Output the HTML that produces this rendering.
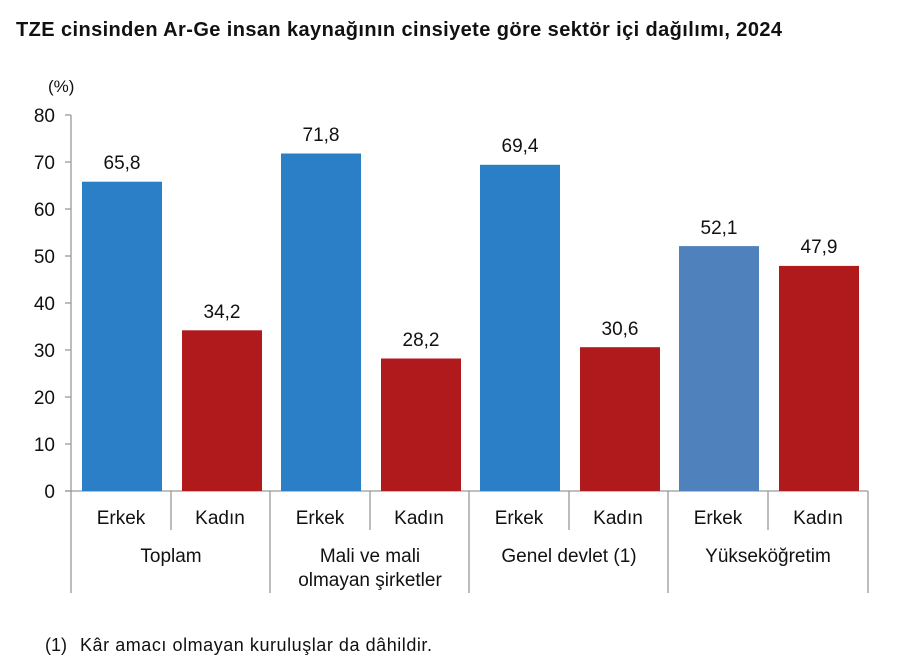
<!DOCTYPE html><html><head><meta charset="utf-8"><style>body{margin:0;background:#fff}svg{display:block}text{font-family:"Liberation Sans",sans-serif;fill:#111}</style></head><body>
<svg width="912" height="672" xmlns="http://www.w3.org/2000/svg">
<text x="16" y="36" font-size="20" font-weight="bold" fill="#000" textLength="766">TZE cinsinden Ar-Ge insan kaynağının cinsiyete göre sektör içi dağılımı, 2024</text>
<text x="48" y="92" font-size="17">(%)</text>
<g font-size="19" text-anchor="end">
<text x="55" y="122">80</text><text x="55" y="169">70</text><text x="55" y="216">60</text><text x="55" y="263">50</text><text x="55" y="310">40</text><text x="55" y="357">30</text><text x="55" y="404">20</text><text x="55" y="451">10</text><text x="55" y="498">0</text>
</g>
<g stroke="#999" stroke-width="1.3">
<line x1="71" y1="115" x2="71" y2="593"/>
<line x1="65" y1="115" x2="71" y2="115"/><line x1="65" y1="162" x2="71" y2="162"/><line x1="65" y1="209" x2="71" y2="209"/><line x1="65" y1="256" x2="71" y2="256"/><line x1="65" y1="303" x2="71" y2="303"/><line x1="65" y1="350" x2="71" y2="350"/><line x1="65" y1="397" x2="71" y2="397"/><line x1="65" y1="444" x2="71" y2="444"/><line x1="65" y1="491" x2="71" y2="491"/>
<line x1="65" y1="491" x2="868" y2="491"/>
<line x1="171" y1="491" x2="171" y2="530"/><line x1="370" y1="491" x2="370" y2="530"/><line x1="569" y1="491" x2="569" y2="530"/><line x1="768" y1="491" x2="768" y2="530"/>
<line x1="270" y1="491" x2="270" y2="593"/><line x1="469" y1="491" x2="469" y2="593"/><line x1="668" y1="491" x2="668" y2="593"/><line x1="868" y1="491" x2="868" y2="593"/>
</g>
<rect x="82" y="181.7" width="80" height="309.3" fill="#2a7fc7"/>
<rect x="182" y="330.3" width="80" height="160.7" fill="#b01a1c"/>
<rect x="281" y="153.5" width="80" height="337.5" fill="#2a7fc7"/>
<rect x="381" y="358.5" width="80" height="132.5" fill="#b01a1c"/>
<rect x="480" y="164.8" width="80" height="326.2" fill="#2a7fc7"/>
<rect x="580" y="347.2" width="80" height="143.8" fill="#b01a1c"/>
<rect x="679" y="246.1" width="80" height="244.9" fill="#4f81bd"/>
<rect x="779" y="265.9" width="80" height="225.1" fill="#b01a1c"/>
<g font-size="19" text-anchor="middle">
<text x="122" y="169">65,8</text><text x="222" y="318">34,2</text><text x="321" y="141">71,8</text><text x="421" y="346">28,2</text><text x="520" y="152">69,4</text><text x="620" y="335">30,6</text><text x="719" y="234">52,1</text><text x="819" y="253">47,9</text>
<text x="121" y="524">Erkek</text><text x="220" y="524">Kadın</text><text x="320" y="524">Erkek</text><text x="419" y="524">Kadın</text><text x="519" y="524">Erkek</text><text x="618" y="524">Kadın</text><text x="718" y="524">Erkek</text><text x="818" y="524">Kadın</text>
<text x="171" y="562">Toplam</text><text x="370" y="562">Mali ve mali</text><text x="370" y="586">olmayan şirketler</text><text x="569" y="562">Genel devlet (1)</text><text x="768" y="562">Yükseköğretim</text>
</g>
<text x="45" y="651" font-size="18">(1)</text>
<text x="80" y="651" font-size="18" textLength="352">Kâr amacı olmayan kuruluşlar da dâhildir.</text>
</svg></body></html>
